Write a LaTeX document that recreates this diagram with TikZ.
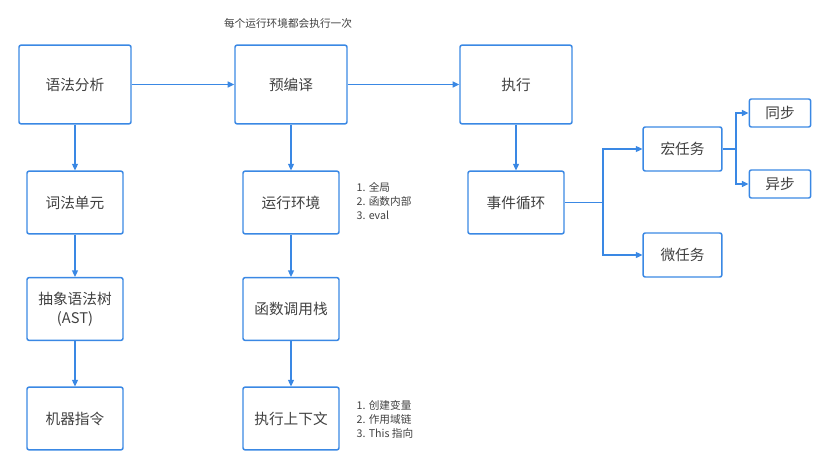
\documentclass[tikz,border=0pt]{standalone}
\usepackage{fontspec}
\setmainfont{Noto Sans CJK SC}
\usepackage{xcolor}
\definecolor{boxblue}{RGB}{58, 136, 228}
\definecolor{textgray}{RGB}{64, 64, 64}
\usepackage{tikz}
\usetikzlibrary{arrows.meta,positioning}

\tikzset{
    bigbox/.style={draw=boxblue, line width=1.1pt, rounded corners=1.5pt, minimum width=84pt, minimum height=59pt, align=center, text=textgray, font=\fontsize{11}{14}\selectfont},
    midbox/.style={bigbox, minimum width=72pt, minimum height=47pt},
    taskbox/.style={bigbox, minimum width=59pt, minimum height=33pt},
    leafbox/.style={bigbox, minimum width=46pt, minimum height=21pt},
    flow/.style={draw=boxblue, line width=1.1pt, -{Triangle[length=5pt, width=4.5pt]}},
    note/.style={text=textgray, font=\fontsize{8}{10.5}\selectfont, align=left}
}

\begin{document}
\begin{tikzpicture}[x=0.75pt, y=-0.75pt]
    \useasboundingbox (0,0) rectangle (818,464);

    % Top row
    \node[bigbox] (parse) at (75,84.5) {语法分析};
    \node[bigbox] (precomp) at (291,84.5) {预编译};
    \node[bigbox] (exec) at (516,84.5) {执行};
    \node[note, anchor=center] (oncenote) at (288,23) {每个运行环境都会执行一次};

    % Left column: parsing
    \node[midbox] (lexunit) at (75,202.5) {词法单元};
    \node[midbox] (ast) at (75,309) {抽象语法树\\(AST)};
    \node[midbox] (machine) at (75,418.5) {机器指令};

    % Middle column: precompile
    \node[midbox] (env) at (291,202.5) {运行环境};
    \node[midbox] (callstack) at (291,309) {函数调用栈};
    \node[midbox] (context) at (291,418.5) {执行上下文};
    \node[note, anchor=west] (envnote) at (352,201) {1. 全局\\2. 函数内部\\3. eval};
    \node[note, anchor=west] (ctxnote) at (352,419) {1. 创建变量\\2. 作用域链\\3. This 指向};

    % Right column: event loop
    \node[midbox] (loop) at (516,202.5) {事件循环};
    \node[taskbox] (macro) at (682.5,149) {宏任务};
    \node[taskbox] (micro) at (682.5,255) {微任务};
    \node[leafbox] (sync) at (780,113) {同步};
    \node[leafbox] (async) at (780,184) {异步};

    % Connectors
    \draw[flow] (parse) -- (precomp);
    \draw[flow] (precomp) -- (exec);
    \draw[flow] (parse) -- (lexunit);
    \draw[flow] (lexunit) -- (ast);
    \draw[flow] (ast) -- (machine);
    \draw[flow] (precomp) -- (env);
    \draw[flow] (env) -- (callstack);
    \draw[flow] (callstack) -- (context);
    \draw[flow] (exec) -- (loop);

    \coordinate (loopsplit) at (603,202.5);
    \draw[flow] (loop.east) -- (loopsplit) |- (macro.west);
    \draw[flow] (loopsplit) |- (micro.west);

    \coordinate (macrosplit) at (736,149);
    \draw[flow] (macro.east) -- (macrosplit) |- (sync.west);
    \draw[flow] (macrosplit) |- (async.west);
\end{tikzpicture}
\end{document}
